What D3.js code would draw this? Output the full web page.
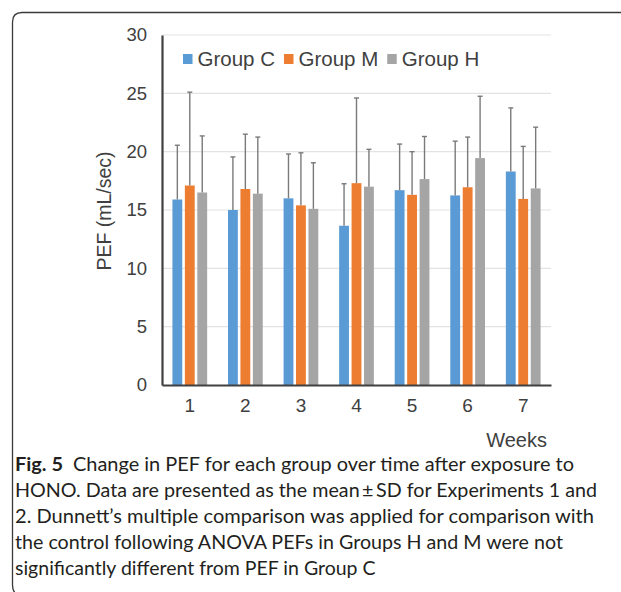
<!DOCTYPE html>
<html>
<head>
<meta charset="utf-8">
<script src="https://cdn.jsdelivr.net/npm/d3@7"></script>
<style>
  body { margin: 0; background: #fff; }
  svg { display: block; }
  .tick text { font-family: "Liberation Sans", Arial, sans-serif; }
</style>
</head>
<body>
<svg id="chart" width="621" height="592"></svg>
<script>
// data
const weeks = ["1", "2", "3", "4", "5", "6", "7"];
const groups = ["Group C", "Group M", "Group H"];
const meanC = [15.9, 15.0, 16.0, 13.65, 16.7, 16.25, 18.3];
const meanM = [17.1, 16.8, 15.4, 17.3, 16.3, 16.95, 15.95];
const meanH = [16.5, 16.4, 15.1, 17.0, 17.65, 19.45, 16.85];
const sdC = [4.65, 4.55, 3.8, 3.6, 3.95, 4.65, 5.45];
const sdM = [8.0, 4.7, 4.5, 7.3, 3.7, 4.3, 4.5];
const sdH = [4.85, 4.85, 3.95, 3.2, 3.65, 5.3, 5.25];
const yTicks = [0, 5, 10, 15, 20, 25, 30];
const colors = ["#5b9bd5", "#ed7d31", "#a5a5a5"];
const captionLines = [
  "HONO. Data are presented as the mean\u2009\u00b1\u2009SD for Experiments 1 and",
  "2. Dunnett\u2019s multiple comparison was applied for comparison with",
  "the control following ANOVA PEFs in Groups H and M were not",
  "significantly different from PEF in Group C"
];
// widths the caption lines take up in the figure (last one left natural)
const captionWidths = [582, 579, 548, null];

const means = [meanC, meanM, meanH];
const sds = [sdC, sdM, sdH];
const rows = [];
weeks.forEach((w, i) => {
  groups.forEach((g, j) => {
    rows.push({ week: w, group: g, mean: means[j][i], sd: sds[j][i] });
  });
});

const svg = d3.select("#chart");
const plotL = 162, plotR = 551, plotT = 35, plotB = 385;

// frame round the figure
svg.append("path")
  .attr("d", `M621,12.5 H22 Q12.5,12.5 12.5,22 V585 Q12.5,595 22,596`)
  .attr("fill", "none")
  .attr("stroke", "#3a3a3a")
  .attr("stroke-width", 1.3);

const y = d3.scaleLinear().domain([0, 30]).range([plotB, plotT]);
const x = d3.scaleBand().domain(weeks).range([plotL, plotR])
  .paddingInner(0.375).paddingOuter(0.1875);
const xs = d3.scaleBand().domain(groups).range([0, x.bandwidth()]).paddingInner(0.21);
const color = d3.scaleOrdinal().domain(groups).range(colors);

// gridlines
svg.append("g")
  .selectAll("line")
  .data(yTicks.filter(d => d > 0))
  .join("line")
  .attr("x1", plotL).attr("x2", plotR)
  .attr("y1", d => y(d)).attr("y2", d => y(d))
  .attr("stroke", "#e3e3e3")
  .attr("stroke-width", 1.2);

// y axis
const yAxis = svg.append("g")
  .attr("transform", `translate(${plotL},0)`)
  .call(d3.axisLeft(y).tickValues(yTicks).tickSize(0).tickPadding(15));
yAxis.select(".domain").attr("stroke", "#404040").attr("stroke-width", 2.2);
yAxis.selectAll(".tick text").attr("font-size", 18.5).attr("fill", "#404040");

// bars
svg.append("g")
  .selectAll("rect")
  .data(rows)
  .join("rect")
  .attr("x", d => x(d.week) + xs(d.group))
  .attr("y", d => y(d.mean))
  .attr("width", xs.bandwidth())
  .attr("height", d => y(0) - y(d.mean))
  .attr("fill", d => color(d.group));

// error bars (upper only)
const err = svg.append("g").attr("stroke", "#7a7a7a").attr("stroke-width", 1.4);
err.selectAll("line.v")
  .data(rows)
  .join("line")
  .attr("class", "v")
  .attr("x1", d => x(d.week) + xs(d.group) + xs.bandwidth() / 2)
  .attr("x2", d => x(d.week) + xs(d.group) + xs.bandwidth() / 2)
  .attr("y1", d => y(d.mean))
  .attr("y2", d => y(d.mean + d.sd));
err.selectAll("line.cap")
  .data(rows)
  .join("line")
  .attr("class", "cap")
  .attr("x1", d => x(d.week) + xs(d.group) + xs.bandwidth() / 2 - 2.5)
  .attr("x2", d => x(d.week) + xs(d.group) + xs.bandwidth() / 2 + 2.5)
  .attr("y1", d => y(d.mean + d.sd))
  .attr("y2", d => y(d.mean + d.sd));

// x axis
const xAxis = svg.append("g")
  .attr("transform", `translate(0,${plotB})`)
  .call(d3.axisBottom(x).tickSize(0).tickPadding(14));
xAxis.select(".domain").attr("stroke", "#404040").attr("stroke-width", 2.2);
xAxis.selectAll(".tick text").attr("font-size", 19).attr("fill", "#404040");

svg.append("text")
  .attr("x", 547).attr("y", 447)
  .attr("text-anchor", "end")
  .attr("font-family", "Liberation Sans, Arial, sans-serif")
  .attr("font-size", 20)
  .attr("fill", "#404040")
  .text("Weeks");

svg.append("text")
  .attr("transform", `translate(111,211) rotate(-90)`)
  .attr("text-anchor", "middle")
  .attr("font-family", "Liberation Sans, Arial, sans-serif")
  .attr("font-size", 19.5)
  .attr("fill", "#404040")
  .text("PEF (mL/sec)");

// legend
const legend = svg.append("g").attr("transform", "translate(183,66)");
let lx = 0;
groups.forEach((g) => {
  legend.append("rect")
    .attr("x", lx).attr("y", -12)
    .attr("width", 9.5).attr("height", 10)
    .attr("fill", color(g));
  const t = legend.append("text")
    .attr("x", lx + 14.5).attr("y", 0)
    .attr("font-family", "Liberation Sans, Arial, sans-serif")
    .attr("font-size", 20.5)
    .attr("fill", "#404040")
    .text(g);
  lx += 14.5 + t.node().getComputedTextLength() + 9;
});

// caption
const cap = svg.append("g")
  .attr("font-family", "Lato, 'Open Sans', sans-serif")
  .attr("font-size", 19.5)
  .attr("fill", "#231f20");
const first = cap.append("text").attr("x", 15).attr("y", 471)
  .attr("textLength", 559).attr("lengthAdjust", "spacingAndGlyphs");
first.append("tspan").attr("font-weight", "bold").text("Fig. 5");
first.append("tspan").text("\u2002Change in PEF for each group over time after exposure to");
cap.selectAll("text.line")
  .data(captionLines)
  .join("text")
  .attr("class", "line")
  .attr("x", 15)
  .attr("y", (d, i) => 497 + i * 26)
  .each(function (d, i) {
    if (captionWidths[i]) {
      d3.select(this).attr("textLength", captionWidths[i]).attr("lengthAdjust", "spacingAndGlyphs");
    }
  })
  .text(d => d);
</script>
</body>
</html>
